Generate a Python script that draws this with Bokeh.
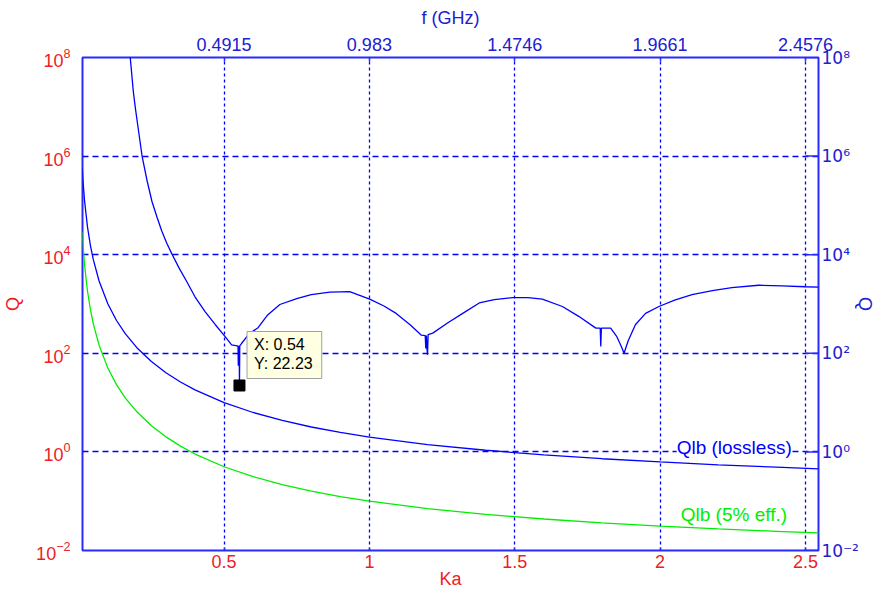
from bokeh.plotting import figure
from bokeh.models import (Range1d, LogAxis, LinearAxis, FixedTicker,
                          CustomJSTickFormatter, BoxAnnotation, Label)
from bokeh.embed import file_html
from bokeh.resources import INLINE

# ---------------- data ----------------
KA_TICKS = [0.5, 1.0, 1.5, 2.0, 2.5]
F_TICKS = [0.4915, 0.983, 1.4746, 1.9661, 2.4576]      # GHz, top axis
Q_TICKS = [1e-2, 1e0, 1e2, 1e4, 1e6, 1e8]

# Qlb (lossless) lower bound
ka_lb = [0.012, 0.015, 0.02, 0.03, 0.04, 0.05, 0.07, 0.1, 0.13, 0.16, 0.2, 0.25,
         0.3, 0.35, 0.4, 0.5, 0.6, 0.7, 0.8, 0.9, 1.0, 1.2, 1.4, 1.6, 1.8, 2.0,
         2.2, 2.4, 2.545]
q_lossless = [5.79e5, 2.96e5, 1.25e5, 3.71e4, 1.565e4, 8020, 2930, 1010, 463, 250,
              130, 68, 40.4, 26.2, 18.1, 10.0, 6.30, 4.34, 3.20, 2.48, 2.0, 1.41,
              1.08, 0.869, 0.727, 0.625, 0.548, 0.489, 0.453]
# Qlb (5% eff.)
q_eff5 = [2.9e4, 1.48e4, 6250, 1855, 783, 401, 146.5, 50.5, 23.2, 12.5, 6.5, 3.4,
          2.02, 1.31, 0.905, 0.5, 0.315, 0.217, 0.160, 0.124, 0.1, 0.0705, 0.054,
          0.0435, 0.0364, 0.0313, 0.0274, 0.0245, 0.0227]

# computed Q of the antenna (upper blue curve)
ka_q = [0.176, 0.188, 0.195, 0.205, 0.218, 0.235, 0.252, 0.270, 0.286, 0.303, 0.320,
        0.345, 0.371, 0.400, 0.434, 0.470, 0.503, 0.526, 0.545, 0.548, 0.549, 0.550,
        0.551, 0.552, 0.553, 0.554, 0.560, 0.580, 0.600, 0.617, 0.650, 0.692, 0.750,
        0.800, 0.864, 0.932, 1.001, 1.050, 1.092, 1.140, 1.178, 1.192, 1.194, 1.196,
        1.198, 1.200, 1.202, 1.218, 1.270, 1.321, 1.378, 1.430, 1.492, 1.545, 1.595,
        1.664, 1.720, 1.779, 1.794, 1.796, 1.798, 1.830, 1.850, 1.866, 1.876, 1.890,
        1.915, 1.950, 1.996, 2.050, 2.110, 2.180, 2.247, 2.339, 2.420, 2.499, 2.545]
q_ant = [1.2e8, 2.0e7, 9.3e6, 3.5e6, 1.0e6, 3.2e5, 1.2e5, 5.6e4, 3.0e4, 1.7e4, 1.05e4,
         5400, 2900, 1400, 710, 380, 220, 148, 141, 141, 56, 141,
         56, 141, 22.23, 141, 158, 224, 282, 331, 600, 977, 1290,
         1550, 1740, 1780, 1260, 910, 645, 380, 234, 229, 126, 229,
         126, 93, 240, 257, 417, 645, 1050, 1230, 1350, 1350, 1260,
         890, 562, 324, 324, 138, 324, 324, 224, 141, 100, 178,
         380, 645, 890, 1200, 1550, 1860, 2140, 2400, 2340, 2240, 2190]

TIP_KA = [0.553]
TIP_Q = [22.23]
TIP_TEXT = ["X: 0.54", "Y: 22.23"]
F_PER_KA = 0.98304

# ---------------- styling ----------------
FONT = "Liberation Sans"
BLUE = "#0000ff"
FRAME = "#2a2aff"
RED = "#ee1c25"
LBLUE = "#2020d0"
GREEN = "#00ee00"

KA_MIN, KA_MAX = 0.013, 2.545

p = figure(width=877, height=594,
           x_range=Range1d(KA_MIN, KA_MAX), y_range=Range1d(1e-2, 1e8),
           y_axis_type="log", output_backend="svg", toolbar_location=None,
           min_border_left=74, min_border_top=57, min_border_bottom=44,
           min_border_right=55, background_fill_color="white",
           border_fill_color="white", outline_line_color=FRAME,
           outline_line_width=2)

p.extra_x_ranges = {"f": Range1d(KA_MIN * F_PER_KA, KA_MAX * F_PER_KA)}

# grids
p.xgrid.ticker = FixedTicker(ticks=KA_TICKS)
p.ygrid.ticker = FixedTicker(ticks=Q_TICKS)
p.xgrid.grid_line_color = BLUE
p.xgrid.grid_line_dash = "3 3"
p.xgrid.grid_line_width = 1.3
p.ygrid.grid_line_color = BLUE
p.ygrid.grid_line_dash = "6 4"
p.ygrid.grid_line_width = 1.3

def style_axis(ax, color, tick_in, standoff, label_standoff, tick_size="18px",
               label_size="18px"):
    ax.axis_line_color = None
    ax.major_tick_line_color = FRAME
    ax.major_tick_line_width = 1.5
    ax.major_tick_in = tick_in
    ax.major_tick_out = 0
    ax.minor_tick_line_color = None
    ax.major_label_text_color = color
    ax.major_label_text_font = FONT
    ax.major_label_text_font_size = tick_size
    ax.major_label_standoff = standoff
    ax.axis_label_text_color = color
    ax.axis_label_text_font = FONT
    ax.axis_label_text_font_size = label_size
    ax.axis_label_text_font_style = "normal"
    ax.axis_label_standoff = label_standoff

bottom = p.below[0]
bottom.ticker = FixedTicker(ticks=KA_TICKS)
bottom.axis_label = "Ka"
style_axis(bottom, RED, 3, 4, -2)

left = p.left[0]
left.ticker = FixedTicker(ticks=Q_TICKS)
left.axis_label = "Q"
style_axis(left, RED, 0, 12, 10)

top = LinearAxis(x_range_name="f", ticker=FixedTicker(ticks=F_TICKS),
                 formatter=CustomJSTickFormatter(code="return tick.toString();"),
                 axis_label="f (GHz)")
style_axis(top, LBLUE, 4, 7, 7)
p.add_layout(top, "above")

# right axis: powers of ten written with superscript characters
sup_code = """
const sup = {"0": "\\u2070", "1": "\\u00b9", "2": "\\u00b2", "3": "\\u00b3",
             "4": "\\u2074", "5": "\\u2075", "6": "\\u2076", "7": "\\u2077",
             "8": "\\u2078", "9": "\\u2079", "-": "\\u207b"};
const e = String(Math.round(Math.log10(tick)));
return "10" + e.split("").map((c) => sup[c]).join("");
"""
right = LogAxis(ticker=FixedTicker(ticks=Q_TICKS), axis_label="Q",
                formatter=CustomJSTickFormatter(code=sup_code))
style_axis(right, LBLUE, 0, 3, -7)
right.major_label_text_font = "DejaVu Sans"
right.major_label_text_font_size = "17px"
p.add_layout(right, "right")

# inward tick marks on the right-hand axis, at the same decades
n = len(Q_TICKS)
p.segment(x0=[KA_MAX - 0.045] * n, y0=Q_TICKS, x1=[KA_MAX] * n, y1=Q_TICKS,
          line_color=FRAME, line_width=1.5)

# curves
p.line(ka_lb, q_eff5, line_color=GREEN, line_width=1.3)
p.line(ka_lb, q_lossless, line_color=BLUE, line_width=1.3)
p.line(ka_q, q_ant, line_color=BLUE, line_width=1.3)

# curve labels
p.add_layout(Label(x=2.057, y=1.23, text="Qlb (lossless)", text_color=BLUE,
                   text_font=FONT, text_font_size="19px", text_baseline="middle",
                   background_fill_color="white", background_fill_alpha=1.0))
p.add_layout(Label(x=2.071, y=0.0537, text="Qlb (5% eff.)", text_color=GREEN,
                   text_font=FONT, text_font_size="19px", text_baseline="middle"))

# data tip
p.scatter(TIP_KA, TIP_Q, marker="square", size=11, color="black")
p.add_layout(BoxAnnotation(left=0.579, right=0.836, top=277, bottom=30.8,
                           fill_color="#ffffe1", fill_alpha=1.0,
                           line_color="#a0a0a0", line_alpha=1.0, line_width=1))
p.add_layout(Label(x=0.603, y=150, text=TIP_TEXT[0], text_color="black",
                   text_font=FONT, text_font_size="16px", text_baseline="middle"))
p.add_layout(Label(x=0.603, y=62, text=TIP_TEXT[1], text_color="black",
                   text_font=FONT, text_font_size="16px", text_baseline="middle"))

open("out.html", "w").write(file_html(p, INLINE))
